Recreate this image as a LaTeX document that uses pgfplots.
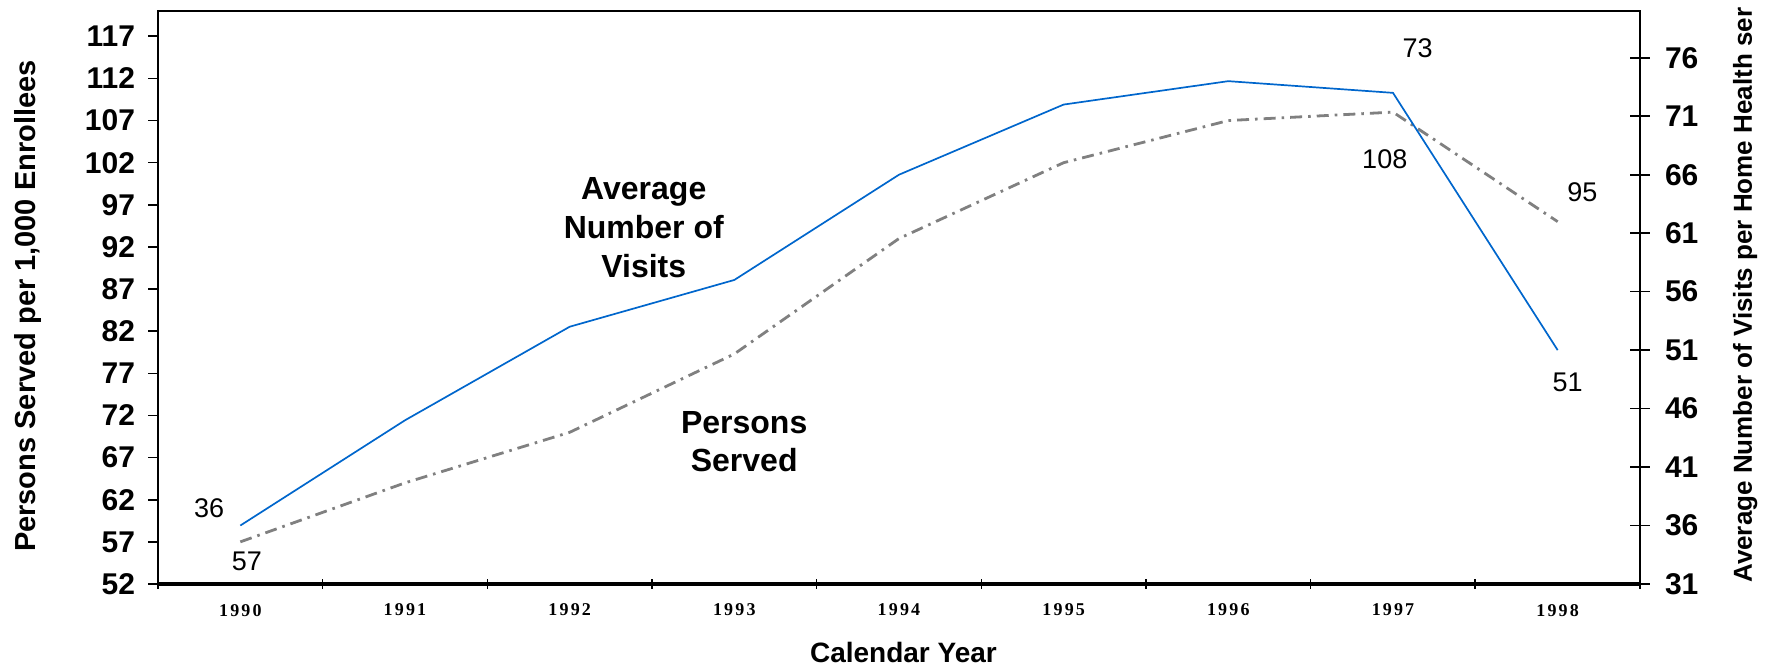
\documentclass[border=0pt]{standalone}
\usepackage{fontspec}
\setmainfont{Liberation Sans}
\newfontfamily\serifb{Liberation Serif}
\usepackage{pgfplots}
\pgfplotsset{compat=1.18}
\definecolor{blueline}{RGB}{0,102,204}
\definecolor{grayline}{RGB}{128,128,128}
\newcommand{\yr}[1]{\serifb\bfseries\fontsize{9}{10}\selectfont\addfontfeature{LetterSpace=12}#1}
\begin{document}
\begin{tikzpicture}
\useasboundingbox (-79pt,-42pt) rectangle (806pt,292pt);
\begin{axis}[
  at={(0,0)}, anchor=south west, scale only axis,
  width=741pt, height=286.5pt,
  xmin=1989.5, xmax=1998.5, ymin=52, ymax=120,
  axis line style={line width=1pt},
  xtick={1989.5,1990.5,...,1998.5},
  xticklabels={\yr{1990},\yr{1991},\yr{1992},\yr{1993},\yr{1994},\yr{1995},\yr{1996},\yr{1997},\yr{1998},{}},
  xticklabel style={xshift=41.17pt, yshift=-4pt},
  xtick pos=bottom, xtick align=center,
  ytick={52,57,...,117}, ytick pos=left, ytick align=outside,
  major tick length=5pt,
  tick style={line width=0.8pt, black},
  yticklabel style={font=\bfseries\fontsize{15}{17}\selectfont, xshift=-3pt},
  /pgf/number format/assume math mode=true,
  ylabel={Persons Served per 1,000 Enrollees},
  ylabel style={at={(axis description cs:-0.0877,0.485)}, anchor=center, font=\bfseries\fontsize{14.5}{17}\selectfont},
  xlabel={Calendar Year},
  xlabel style={at={(axis description cs:0.503,-0.1187)}, anchor=center, font=\bfseries\fontsize{14}{16}\selectfont},
  clip=false,
]
\addplot[grayline, line width=1.4pt, dash pattern=on 6pt off 3pt on 1.3pt off 3pt] coordinates {
  (1990,57) (1991,64) (1992,70) (1993,79.3) (1994,93) (1995,102) (1996,107) (1997,108) (1998,95)
};
\draw[line width=1.9pt] (rel axis cs:0,0) -- (rel axis cs:1,0);
\node[font=\fontsize{13.5}{15}\selectfont] at (axis cs:1989.81,61.0) {36};
\node[font=\fontsize{13.5}{15}\selectfont] at (axis cs:1990.04,54.7) {57};
\node[font=\fontsize{13.5}{15}\selectfont] at (axis cs:1997.15,115.6) {73};
\node[font=\fontsize{13.5}{15}\selectfont] at (axis cs:1996.95,102.4) {108};
\node[font=\fontsize{13.5}{15}\selectfont] at (axis cs:1998.15,98.5) {95};
\node[font=\fontsize{13.5}{15}\selectfont] at (axis cs:1998.06,75.9) {51};
\node[align=center, font=\bfseries\fontsize{16}{19.3}\selectfont] at (axis cs:1992.45,94.3) {Average\\Number of\\Visits};
\node[align=center, font=\bfseries\fontsize{16}{19.3}\selectfont] at (axis cs:1993.06,68.9) {Persons\\Served};
\end{axis}
\begin{axis}[
  at={(0,0)}, anchor=south west, scale only axis,
  width=741pt, height=286.5pt,
  xmin=1989.5, xmax=1998.5, ymin=31, ymax=80,
  axis x line=none, axis y line*=right,
  axis line style={line width=1pt},
  ytick={31,36,...,76}, ytick align=center,
  major tick length=10pt,
  tick style={line width=0.8pt, black},
  yticklabel style={font=\bfseries\fontsize{15}{17}\selectfont, xshift=4pt},
  /pgf/number format/assume math mode=true,
  ylabel={Average Number of Visits per Home Health ser},
  ylabel style={at={(axis description cs:1.0709,0.504)}, anchor=center, font=\bfseries\fontsize{13}{15}\selectfont},
  clip=false,
]
\addplot[blueline, line width=0.85pt] coordinates {
  (1990,36) (1991,45) (1992,53) (1993,57) (1994,66) (1995,72) (1996,74) (1997,73) (1998,51)
};
\end{axis}
\end{tikzpicture}
\end{document}
